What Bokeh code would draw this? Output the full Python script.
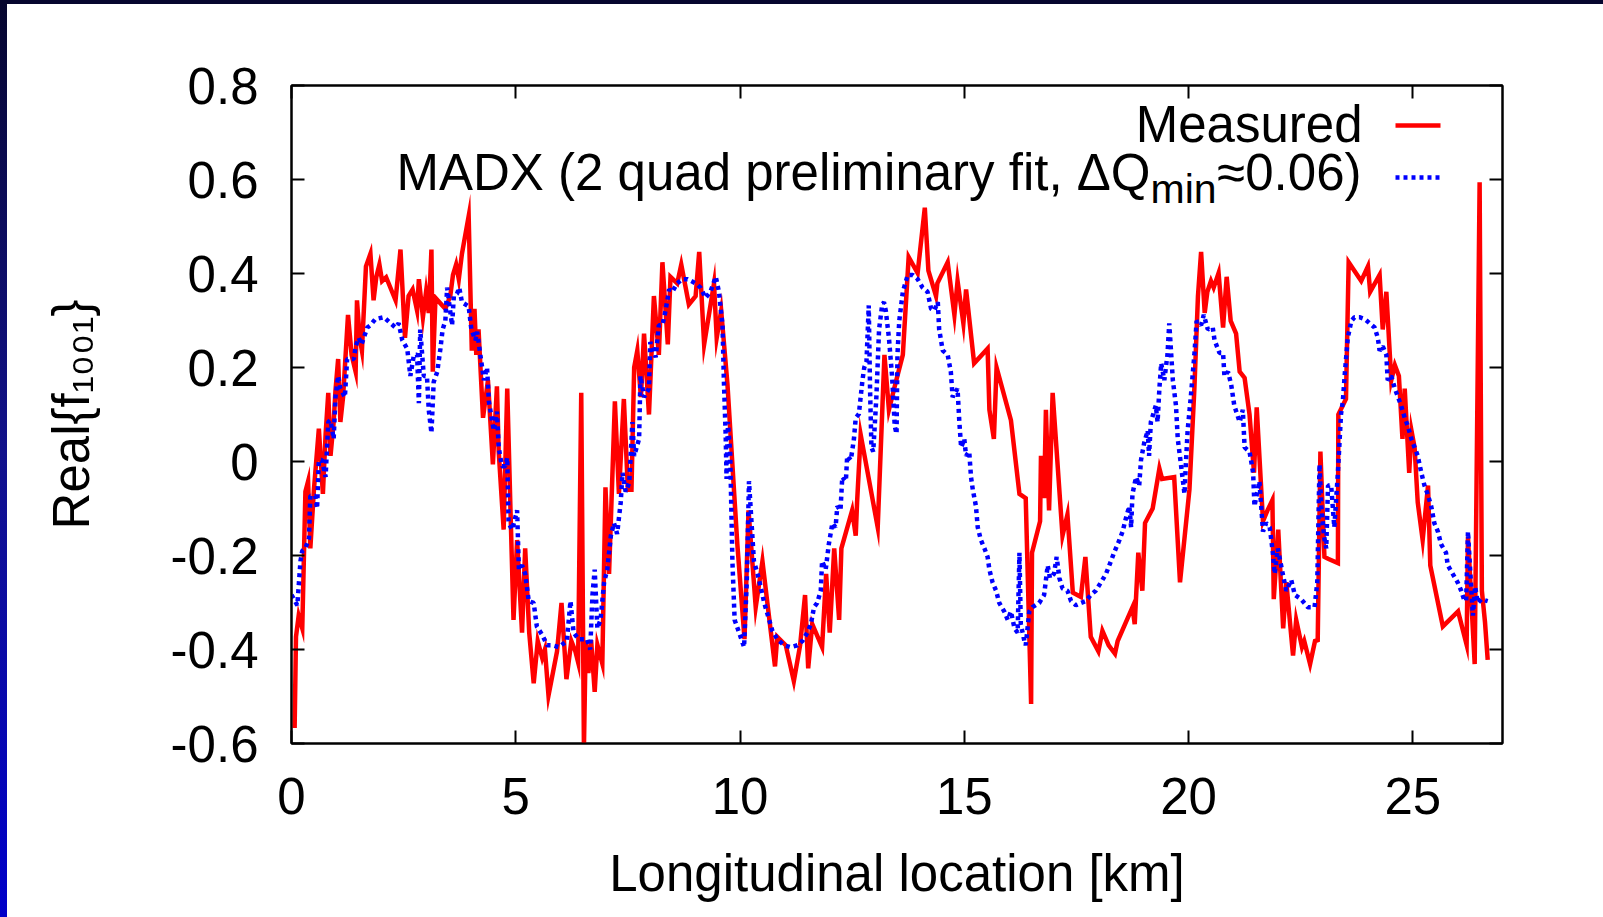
from bokeh.plotting import figure
from bokeh.models import (Range1d, LinearAxis, FixedTicker, CustomJSTickFormatter, Label,
                          GlobalInlineStyleSheet)
from bokeh.embed import file_html
from bokeh.resources import INLINE

# ---------------- data ----------------
measured_km = [0.07, 0.10, 0.16, 0.24, 0.31, 0.37, 0.42, 0.50, 0.61, 0.70, 0.76, 0.82, 0.87, 0.94, 0.98,
               1.04, 1.09, 1.15, 1.26, 1.34, 1.43, 1.46, 1.52, 1.57, 1.66, 1.76, 1.83, 1.89, 1.96, 2.02,
               2.11, 2.32, 2.43, 2.53, 2.61, 2.70, 2.80, 2.84, 2.93, 3.00, 3.06, 3.12, 3.15, 3.21, 3.43,
               3.54, 3.60, 3.67, 3.73, 3.80, 3.95, 4.02, 4.08, 4.12, 4.17, 4.27, 4.38, 4.49, 4.58, 4.62,
               4.73, 4.81, 4.88, 4.95, 5.03, 5.14, 5.21, 5.30, 5.40, 5.49, 5.59, 5.65, 5.73, 5.92, 6.02,
               6.13, 6.24, 6.33, 6.39, 6.46, 6.52, 6.56, 6.62, 6.68, 6.76, 6.82, 6.93, 7.00, 7.08, 7.21,
               7.30, 7.41, 7.50, 7.58, 7.64, 7.71, 7.79, 7.86, 7.97, 8.08, 8.19, 8.27, 8.39, 8.45, 8.60,
               8.69, 8.86, 9.01, 9.09, 9.20, 9.42, 9.48, 9.58, 9.72, 9.94, 10.10, 10.19, 10.35, 10.50, 10.61,
               10.78, 10.83, 11.02, 11.20, 11.34, 11.45, 11.52, 11.61, 11.83, 11.92, 12.00, 12.10, 12.21, 12.26, 12.50,
               12.58, 12.61, 12.69, 13.07, 13.22, 13.32, 13.45, 13.63, 13.76, 13.96, 14.12, 14.20, 14.37, 14.40, 14.63,
               14.78, 14.85, 14.98, 15.04, 15.22, 15.52, 15.56, 15.66, 15.72, 16.04, 16.23, 16.37, 16.49, 16.51, 16.69,
               16.71, 16.78, 16.82, 16.89, 16.97, 17.19, 17.30, 17.42, 17.60, 17.70, 17.82, 17.99, 18.08, 18.22, 18.36,
               18.42, 18.75, 18.80, 18.88, 18.97, 19.03, 19.20, 19.35, 19.41, 19.68, 19.81, 20.02, 20.13, 20.21, 20.28,
               20.36, 20.42, 20.50, 20.56, 20.67, 20.77, 20.85, 20.94, 21.06, 21.14, 21.25, 21.36, 21.46, 21.52, 21.66,
               21.76, 21.87, 21.90, 22.00, 22.11, 22.18, 22.33, 22.40, 22.53, 22.58, 22.71, 22.82, 22.88, 22.94, 23.03,
               23.11, 23.33, 23.34, 23.51, 23.57, 23.85, 24.00, 24.05, 24.26, 24.33, 24.41, 24.52, 24.60, 24.69, 24.77,
               24.82, 24.92, 24.97, 25.04, 25.11, 25.22, 25.34, 25.39, 25.67, 26.01, 26.20, 26.23, 26.38, 26.49, 26.54,
               26.61, 26.67]
measured_val = [-0.567, -0.373, -0.328, -0.355, -0.064, -0.042, -0.185, -0.060, 0.070, -0.069, 0.057, 0.146, 0.012, 0.084, 0.150,
                0.218, 0.084, 0.137, 0.312, 0.227, 0.191, 0.343, 0.263, 0.236, 0.415, 0.442, 0.343, 0.392, 0.419, 0.384,
                0.392, 0.343, 0.451, 0.263, 0.352, 0.366, 0.321, 0.388, 0.307, 0.361, 0.316, 0.451, 0.191, 0.348, 0.325,
                0.352, 0.397, 0.419, 0.388, 0.442, 0.522, 0.236, 0.325, 0.227, 0.281, 0.093, 0.173, -0.006, 0.160, 0.021,
                -0.145, 0.155, -0.095, -0.337, -0.167, -0.364, -0.185, -0.364, -0.472, -0.382, -0.418, -0.400, -0.498, -0.404, -0.301,
                -0.463, -0.382, -0.404, -0.427, 0.146, -0.610, -0.381, -0.450, -0.380, -0.490, -0.390, -0.430, -0.055, -0.239, 0.128,
                -0.069, 0.133, -0.060, -0.060, 0.200, 0.236, 0.137, 0.272, 0.100, 0.352, 0.227, 0.424, 0.249, 0.393, 0.379,
                0.419, 0.334, 0.352, 0.446, 0.249, 0.379, 0.263, 0.321, 0.164, -0.176, -0.378, -0.104, -0.310, -0.212, -0.301,
                -0.436, -0.373, -0.391, -0.467, -0.391, -0.284, -0.440, -0.346, -0.395, -0.239, -0.364, -0.185, -0.337, -0.185, -0.104,
                -0.158, -0.087, 0.057, -0.140, 0.227, 0.110, 0.160, 0.227, 0.435, 0.401, 0.540, 0.406, 0.352, 0.379, 0.424,
                0.312, 0.384, 0.294, 0.366, 0.209, 0.240, 0.110, 0.048, 0.200, 0.088, -0.069, -0.078, -0.516, -0.194, -0.127,
                0.012, -0.078, 0.110, -0.104, 0.146, -0.158, -0.113, -0.279, -0.288, -0.203, -0.373, -0.404, -0.360, -0.391, -0.409,
                -0.382, -0.310, -0.346, -0.194, -0.275, -0.131, -0.100, -0.015, -0.037, -0.033, -0.257, -0.060, 0.155, 0.352, 0.446,
                0.316, 0.361, 0.384, 0.370, 0.401, 0.285, 0.393, 0.299, 0.272, 0.191, 0.178, 0.100, -0.024, 0.115, -0.127,
                -0.104, -0.082, -0.293, -0.145, -0.355, -0.257, -0.413, -0.337, -0.395, -0.382, -0.431, -0.382, -0.380, 0.021, -0.203,
                -0.207, -0.216, 0.100, 0.133, 0.424, 0.384, 0.415, 0.361, 0.397, 0.281, 0.361, 0.173, 0.205, 0.182, 0.048,
                0.155, -0.024, 0.066, 0.030, -0.087, -0.167, -0.051, -0.221, -0.351, -0.319, -0.390, -0.160, -0.431, 0.594, -0.275,
                -0.342, -0.422]

madx_km = [0.00, 0.13, 0.20, 0.24, 0.31, 0.39, 0.42, 0.53, 0.57, 0.61, 0.68, 0.76, 0.82, 0.87, 0.94,
           0.98, 1.04, 1.09, 1.19, 1.24, 1.39, 1.43, 1.50, 1.56, 1.61, 1.69, 1.76, 1.87, 2.06, 2.21,
           2.32, 2.39, 2.47, 2.58, 2.65, 2.73, 2.80, 2.84, 2.87, 2.95, 3.02, 3.06, 3.12, 3.17, 3.25,
           3.32, 3.37, 3.43, 3.47, 3.58, 3.62, 3.69, 3.74, 3.80, 3.95, 4.01, 4.10, 4.14, 4.21, 4.29,
           4.36, 4.40, 4.51, 4.58, 4.62, 4.69, 4.77, 4.81, 4.84, 4.92, 5.03, 5.07, 5.14, 5.21, 5.29,
           5.40, 5.47, 5.59, 5.70, 5.81, 5.96, 6.14, 6.22, 6.29, 6.40, 6.59, 6.66, 6.71, 6.76, 6.82,
           6.89, 6.97, 7.04, 7.12, 7.19, 7.26, 7.34, 7.38, 7.45, 7.53, 7.60, 7.64, 7.75, 7.78, 7.86,
           7.97, 8.00, 8.12, 8.19, 8.27, 8.34, 8.42, 8.49, 8.60, 8.71, 8.83, 9.01, 9.12, 9.23, 9.34,
           9.46, 9.53, 9.61, 9.64, 9.68, 9.70, 9.73, 9.78, 9.83, 9.88, 9.98, 10.09, 10.15, 10.20, 10.24,
           10.31, 10.39, 10.46, 10.54, 10.65, 10.72, 10.83, 10.98, 11.13, 11.28, 11.39, 11.50, 11.58, 11.65, 11.72,
           11.80, 11.83, 11.91, 11.98, 12.06, 12.13, 12.17, 12.24, 12.28, 12.36, 12.39, 12.47, 12.54, 12.58, 12.65,
           12.73, 12.77, 12.82, 12.87, 12.90, 12.93, 12.97, 13.04, 13.10, 13.17, 13.21, 13.25, 13.32, 13.39, 13.45,
           13.49, 13.51, 13.55, 13.63, 13.74, 13.85, 13.96, 14.07, 14.18, 14.26, 14.33, 14.41, 14.44, 14.52, 14.63,
           14.70, 14.74, 14.85, 14.89, 14.93, 15.00, 15.04, 15.11, 15.15, 15.19, 15.26, 15.30, 15.37, 15.45, 15.52,
           15.56, 15.63, 15.71, 15.78, 15.89, 15.97, 16.04, 16.12, 16.19, 16.23, 16.26, 16.34, 16.37, 16.45, 16.52,
           16.67, 16.78, 16.86, 16.91, 17.00, 17.06, 17.12, 17.19, 17.30, 17.38, 17.49, 17.60, 17.71, 17.82, 17.93,
           18.05, 18.16, 18.27, 18.34, 18.46, 18.53, 18.60, 18.68, 18.72, 18.75, 18.83, 18.90, 18.94, 19.01, 19.09,
           19.12, 19.16, 19.27, 19.31, 19.35, 19.39, 19.46, 19.53, 19.57, 19.65, 19.72, 19.76, 19.83, 19.91, 19.94,
           19.98, 20.05, 20.13, 20.18, 20.28, 20.34, 20.43, 20.54, 20.58, 20.69, 20.77, 20.80, 20.88, 20.95, 21.02,
           21.14, 21.21, 21.25, 21.36, 21.44, 21.47, 21.58, 21.66, 21.73, 21.81, 21.88, 21.92, 21.99, 22.10, 22.18,
           22.29, 22.37, 22.51, 22.66, 22.81, 22.87, 22.92, 22.96, 23.02, 23.07, 23.11, 23.18, 23.25, 23.33, 23.40,
           23.44, 23.48, 23.55, 23.63, 23.70, 23.81, 23.93, 24.04, 24.15, 24.22, 24.26, 24.33, 24.41, 24.44, 24.52,
           24.60, 24.67, 24.74, 24.82, 24.89, 24.97, 25.04, 25.11, 25.19, 25.26, 25.33, 25.41, 25.48, 25.56, 25.63,
           25.74, 25.78, 25.89, 26.00, 26.08, 26.14, 26.19, 26.23, 26.29, 26.34, 26.39, 26.45, 26.53, 26.67]
madx_val = [-0.284, -0.306, -0.212, -0.190, -0.185, -0.163, -0.073, -0.073, -0.100, 0.003, 0.003, -0.033, 0.084, 0.088, 0.048,
            0.137, 0.182, 0.155, 0.137, 0.218, 0.218, 0.245, 0.263, 0.249, 0.263, 0.285, 0.290, 0.303, 0.307, 0.294,
            0.285, 0.294, 0.258, 0.240, 0.182, 0.227, 0.227, 0.124, 0.281, 0.182, 0.182, 0.110, 0.061, 0.169, 0.191,
            0.240, 0.281, 0.299, 0.370, 0.290, 0.352, 0.357, 0.370, 0.339, 0.330, 0.281, 0.258, 0.276, 0.227, 0.173,
            0.200, 0.128, 0.066, 0.106, 0.030, -0.010, -0.010, 0.008, -0.131, -0.145, -0.104, -0.230, -0.221, -0.239, -0.297,
            -0.301, -0.351, -0.369, -0.391, -0.391, -0.395, -0.382, -0.297, -0.364, -0.378, -0.378, -0.400, -0.284, -0.230, -0.355,
            -0.337, -0.257, -0.230, -0.158, -0.131, -0.154, -0.087, -0.024, -0.064, -0.046, 0.084, 0.012, 0.048, 0.182, 0.137,
            0.155, 0.254, 0.222, 0.290, 0.290, 0.321, 0.366, 0.361, 0.379, 0.388, 0.388, 0.379, 0.370, 0.348, 0.361,
            0.393, 0.361, 0.290, 0.173, 0.057, -0.037, 0.084, 0.021, -0.212, -0.337, -0.364, -0.395, -0.257, -0.042, -0.104,
            -0.212, -0.239, -0.266, -0.301, -0.337, -0.360, -0.378, -0.391, -0.395, -0.391, -0.382, -0.364, -0.346, -0.310, -0.301,
            -0.275, -0.212, -0.230, -0.176, -0.131, -0.140, -0.095, -0.104, -0.033, -0.042, 0.012, 0.003, 0.048, 0.093, 0.101,
            0.173, 0.200, 0.213, 0.332, 0.150, 0.030, 0.021, 0.137, 0.281, 0.334, 0.339, 0.321, 0.263, 0.182, 0.075,
            0.059, 0.227, 0.299, 0.361, 0.397, 0.397, 0.388, 0.370, 0.361, 0.325, 0.321, 0.339, 0.281, 0.236, 0.227,
            0.191, 0.137, 0.155, 0.084, 0.030, 0.048, 0.012, 0.021, -0.033, -0.060, -0.095, -0.140, -0.167, -0.185, -0.203,
            -0.230, -0.257, -0.275, -0.301, -0.319, -0.337, -0.319, -0.355, -0.364, -0.194, -0.346, -0.382, -0.391, -0.319, -0.310,
            -0.301, -0.284, -0.221, -0.248, -0.239, -0.203, -0.248, -0.270, -0.275, -0.297, -0.306, -0.301, -0.297, -0.284, -0.275,
            -0.257, -0.239, -0.212, -0.194, -0.167, -0.149, -0.122, -0.095, -0.140, -0.069, -0.033, -0.051, 0.003, 0.039, 0.066,
            0.012, 0.084, 0.119, 0.084, 0.155, 0.209, 0.173, 0.227, 0.294, 0.173, 0.119, 0.048, -0.006, -0.069, -0.006,
            0.066, 0.137, 0.227, 0.299, 0.290, 0.312, 0.281, 0.285, 0.258, 0.231, 0.231, 0.182, 0.191, 0.164, 0.119,
            0.084, 0.110, 0.030, 0.021, -0.024, -0.095, -0.042, -0.149, -0.131, -0.140, -0.194, -0.239, -0.185, -0.239, -0.275,
            -0.252, -0.284, -0.293, -0.310, -0.310, -0.257, -0.006, -0.095, -0.158, -0.185, -0.051, -0.051, -0.140, -0.024, 0.101,
            0.128, 0.182, 0.263, 0.299, 0.307, 0.307, 0.303, 0.294, 0.285, 0.263, 0.236, 0.245, 0.227, 0.173, 0.182,
            0.155, 0.137, 0.119, 0.093, 0.075, 0.048, 0.030, 0.012, -0.024, -0.051, -0.069, -0.095, -0.131, -0.149, -0.176,
            -0.194, -0.221, -0.239, -0.257, -0.275, -0.293, -0.297, -0.149, -0.248, -0.328, -0.266, -0.301, -0.293, -0.297]

x_ticks = [0, 5, 10, 15, 20, 25]
x_tick_labels = ["0", "5", "10", "15", "20", "25"]
y_ticks = [-0.6, -0.4, -0.2, 0, 0.2, 0.4, 0.6, 0.8]
y_tick_labels = ["-0.6", "-0.4", "-0.2", "0", "0.2", "0.4", "0.6", "0.8"]

series_names = ["Measured", "MADX (2 quad preliminary fit, \u0394Q"]
x_label = "Longitudinal location [km]"
y_label = "Real{f\u2081\u2080\u2080\u2081}"

X_MIN, X_MAX = 0, 27
Y_MIN, Y_MAX = -0.6, 0.8

# ---------------- layout (page pixels) ----------------
PAGE_W, FIG_H = 1603, 905     # a little shorter than the window so the page never overflows
FL, FR, FT, FB = 291, 1502, 85, 743
FONT = "Liberation Sans"
FS_PX, FS_SUB_PX = 51, 41
FS = f"{FS_PX}px"
BASE_SHIFT = 0.35            # label placement correction (fraction of font size)
RED, BLUE = "#ff0000", "#0000ff"
LW = 4.5
GRAD = "linear-gradient(180deg, #06062e 0%, #12128c 50%, #0000c8 100%)"


def dx(px):
    return X_MIN + (px - FL) / (FR - FL) * (X_MAX - X_MIN)


def dy(py):
    return Y_MAX - (py - FT) / (FB - FT) * (Y_MAX - Y_MIN)


p = figure(width=PAGE_W, height=FIG_H, output_backend="svg", toolbar_location=None,
           x_range=Range1d(X_MIN, X_MAX), y_range=Range1d(Y_MIN, Y_MAX),
           min_border_left=FL, min_border_right=PAGE_W - FR,
           min_border_top=FT, min_border_bottom=FIG_H - FB,
           background_fill_color="white", border_fill_color=None)
# slide frame: dark strip on top, blue gradient strip on the left, white elsewhere
p.styles = {"background": (f"linear-gradient(#06062e, #06062e) left top / 100% 4px no-repeat, "
                           f"{GRAD} left top / 7px 100% no-repeat, #ffffff")}
p.stylesheets = [GlobalInlineStyleSheet(
    css=("html, body { margin: 0; padding: 0; overflow: hidden; "
         f"background: {GRAD} left top / 7px 917px no-repeat, #ffffff; }}"))]
p.xgrid.visible = False
p.ygrid.visible = False
p.outline_line_color = "black"
p.outline_line_width = 2


def style_axis(ax, labels=True):
    ax.major_tick_in = 13
    ax.major_tick_out = 0
    ax.minor_tick_in = 0
    ax.minor_tick_out = 0
    ax.axis_line_width = 2
    ax.axis_line_color = "black"
    ax.major_tick_line_width = 2
    ax.major_tick_line_color = "black"
    ax.major_label_text_font = FONT
    ax.major_label_text_font_size = FS
    ax.major_label_text_color = "black"
    ax.axis_label_text_font = FONT
    ax.axis_label_text_font_size = FS
    ax.axis_label_text_font_style = "normal"
    ax.axis_label_text_color = "black"
    if not labels:
        ax.formatter = CustomJSTickFormatter(code="return ''")


p.xaxis.ticker = FixedTicker(ticks=x_ticks)
p.xaxis.major_label_overrides = dict(zip(x_ticks, x_tick_labels))
p.yaxis.ticker = FixedTicker(ticks=y_ticks)
p.yaxis.major_label_overrides = dict(zip(y_ticks, y_tick_labels))
style_axis(p.xaxis[0])
style_axis(p.yaxis[0])
p.xaxis.major_label_standoff = 34
p.yaxis.major_label_standoff = 33
p.xaxis.axis_label = x_label
p.xaxis.axis_label_standoff = 28
p.yaxis.axis_label = y_label
p.yaxis.axis_label_standoff = 68

top_ax = LinearAxis(ticker=FixedTicker(ticks=x_ticks))
style_axis(top_ax, labels=False)
p.add_layout(top_ax, "above")
right_ax = LinearAxis(ticker=FixedTicker(ticks=y_ticks))
style_axis(right_ax, labels=False)
p.add_layout(right_ax, "right")

# ---------------- series ----------------
p.line(measured_km, measured_val, line_color=RED, line_width=LW, line_join="miter")
p.line(madx_km, madx_val, line_color=BLUE, line_width=LW, line_dash="4 4")

# ---------------- key (gnuplot style: text, then sample) ----------------
p.line([dx(1395), dx(1440)], [dy(125), dy(125)], line_color=RED, line_width=LW)
p.line([dx(1395), dx(1440)], [dy(177), dy(177)], line_color=BLUE, line_width=LW, line_dash="4 4")


def lab(px, py, text, size_px=FS_PX, align="left"):
    py = py - BASE_SHIFT * size_px
    p.add_layout(Label(x=dx(px), y=dy(py), text=text, text_font=FONT,
                       text_font_size=f"{size_px}px", text_color="black", text_align=align,
                       text_baseline="alphabetic"))


lab(1362, 142, series_names[0], align="right")
lab(1150, 190, series_names[1], align="right")
lab(1150, 203, "min", size_px=FS_SUB_PX)
lab(1361, 190, "\u22480.06)", align="right")

open("out.html", "w").write(file_html(p, INLINE))
